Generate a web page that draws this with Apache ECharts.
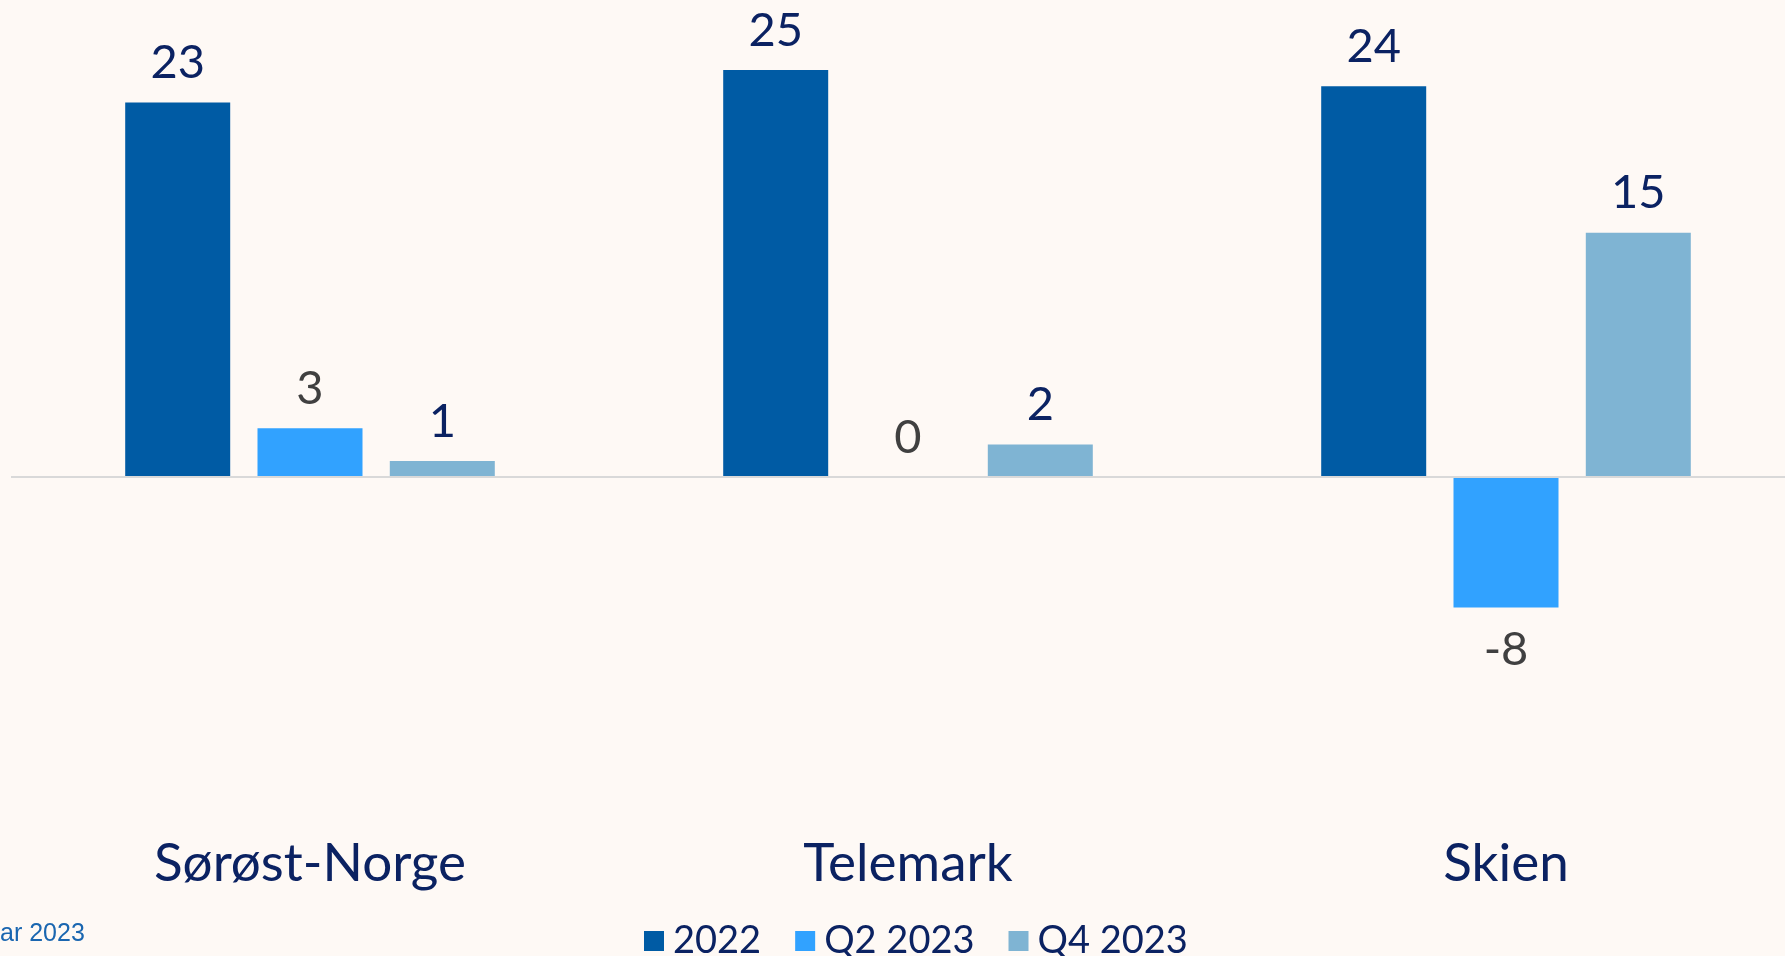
<!DOCTYPE html>
<html>
<head>
<meta charset="utf-8">
<script src="https://cdn.jsdelivr.net/npm/echarts@6/dist/echarts.min.js"></script>
<style>
  html, body { margin: 0; padding: 0; background: #fef9f5; }
  #main { width: 1785px; height: 956px; }
</style>
</head>
<body>
<div id="main"></div>
<script>
var chartDom = document.getElementById('main')
var myChart = echarts.init(chartDom)
var option

const categories = ['Sørøst-Norge', 'Telemark', 'Skien']
const seriesNames = ['2022', 'Q2 2023', 'Q4 2023']
const values2022 = [23, 25, 24]
const valuesQ2 = [3, 0, -8]
const valuesQ4 = [1, 2, 15]

const colors = ['#005ba4', '#31a2ff', '#7fb4d3']
const labelColors = ['#0b2262', '#404040', '#0b2262']
const font = 'Lato, "Noto Sans", sans-serif'

// negative bars get their label under the bar
function toData(arr) {
  return arr.map(v => ({
    value: v,
    label: v < 0 ? { position: 'bottom', distance: 19 } : {}
  }))
}

const allValues = [values2022, valuesQ2, valuesQ4]

option = {
  backgroundColor: '#fef9f5',
  animation: false,
  color: colors,
  grid: {
    left: 11,
    width: 1794,
    top: 21,
    bottom: 153,
    outerBoundsMode: 'none',
    containLabel: false
  },
  legend: {
    left: 639,
    top: 917,
    icon: 'rect',
    itemWidth: 20,
    itemHeight: 20,
    itemGap: 34,
    textStyle: {
      fontFamily: font,
      fontSize: 38,
      color: '#0b2262',
      padding: [0, 0, 0, 4]
    },
    data: seriesNames
  },
  graphic: [
    {
      type: 'text',
      left: 0,
      top: 922,
      style: {
        text: 'ar 2023',
        fontFamily: '"Liberation Sans", Arial, sans-serif',
        fontSize: 25,
        fill: '#1a66b0'
      }
    }
  ],
  xAxis: {
    type: 'category',
    data: categories,
    axisLine: { show: false, onZero: false },
    axisTick: { show: false },
    axisLabel: {
      margin: 34,
      fontFamily: font,
      fontSize: 53,
      color: '#0b2262'
    }
  },
  yAxis: {
    type: 'value',
    min: -20,
    max: 28,
    show: false,
    splitLine: { show: false }
  },
  series: allValues.map((arr, i) => ({
    name: seriesNames[i],
    type: 'bar',
    barWidth: 105,
    barGap: '26%',
    data: toData(arr),
    label: {
      show: true,
      position: 'top',
      distance: 16,
      fontFamily: font,
      fontSize: 47,
      color: labelColors[i]
    },
    markLine: i === 0 ? {
      silent: true,
      symbol: 'none',
      label: { show: false },
      lineStyle: { color: '#d9d9d9', width: 2, type: 'solid' },
      data: [{ yAxis: 0 }]
    } : undefined
  }))
}

option && myChart.setOption(option)
</script>
</body>
</html>
